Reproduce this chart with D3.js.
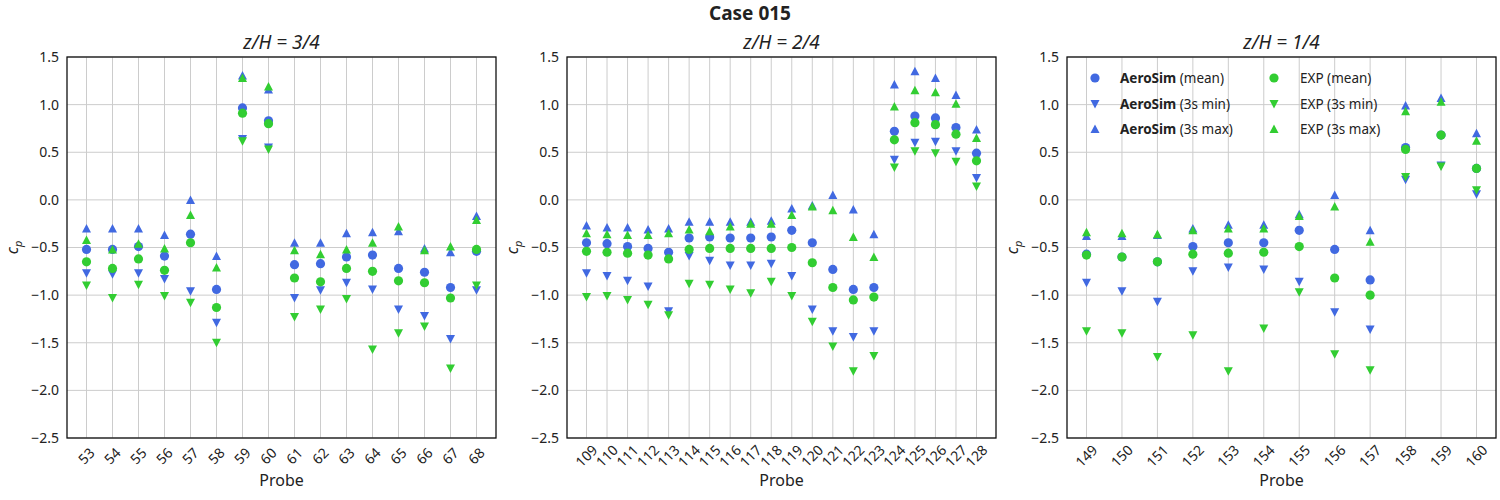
<!DOCTYPE html>
<html><head><meta charset="utf-8">
<script src="https://cdn.jsdelivr.net/npm/d3@7"></script>
<style>body{margin:0;background:#fff}svg{font-family:"Noto Sans","Open Sans",sans-serif}</style>
</head><body>
<svg id="c" width="1500" height="500"></svg>
<script>
// ---- data ----
const probes1 = ["53","54","55","56","57","58","59","60","61","62","63","64","65","66","67","68"];
const aeroMean1 = [-0.52,-0.52,-0.49,-0.59,-0.36,-0.94,0.965,0.83,-0.68,-0.67,-0.60,-0.58,-0.72,-0.76,-0.92,-0.54];
const aeroMin1  = [-0.77,-0.78,-0.77,-0.83,-0.96,-1.29,0.64,0.55,-1.03,-0.95,-0.87,-0.94,-1.15,-1.22,-1.46,-0.95];
const aeroMax1  = [-0.30,-0.30,-0.30,-0.37,0.00,-0.59,1.305,1.16,-0.45,-0.45,-0.35,-0.34,-0.33,-0.51,-0.55,-0.17];
const expMean1  = [-0.65,-0.72,-0.62,-0.74,-0.45,-1.13,0.91,0.80,-0.82,-0.86,-0.72,-0.75,-0.85,-0.87,-1.03,-0.52];
const expMin1   = [-0.90,-1.03,-0.89,-1.01,-1.08,-1.50,0.615,0.53,-1.23,-1.15,-1.04,-1.57,-1.40,-1.33,-1.77,-0.90];
const expMax1   = [-0.42,-0.52,-0.46,-0.51,-0.16,-0.71,1.28,1.19,-0.53,-0.57,-0.52,-0.45,-0.28,-0.53,-0.49,-0.21];

const probes2 = ["109","110","111","112","113","114","115","116","117","118","119","120","121","122","123","124","125","126","127","128"];
const aeroMean2 = [-0.45,-0.46,-0.49,-0.51,-0.55,-0.40,-0.39,-0.40,-0.40,-0.39,-0.32,-0.45,-0.73,-0.94,-0.92,0.72,0.88,0.86,0.76,0.49];
const aeroMin2  = [-0.77,-0.80,-0.85,-0.91,-1.17,-0.59,-0.64,-0.69,-0.69,-0.67,-0.80,-1.15,-1.38,-1.44,-1.38,0.42,0.60,0.61,0.51,0.23];
const aeroMax2  = [-0.27,-0.29,-0.29,-0.31,-0.30,-0.23,-0.23,-0.23,-0.23,-0.22,-0.09,-0.06,0.05,-0.10,-0.36,1.21,1.35,1.28,1.10,0.74];
const expMean2  = [-0.54,-0.55,-0.56,-0.58,-0.62,-0.52,-0.51,-0.51,-0.51,-0.51,-0.50,-0.66,-0.92,-1.05,-1.02,0.63,0.81,0.79,0.69,0.41];
const expMin2   = [-1.02,-1.01,-1.05,-1.10,-1.21,-0.88,-0.89,-0.94,-0.98,-0.86,-1.01,-1.28,-1.54,-1.80,-1.64,0.34,0.51,0.49,0.40,0.14];
const expMax2   = [-0.35,-0.36,-0.37,-0.37,-0.35,-0.31,-0.33,-0.28,-0.25,-0.25,-0.16,-0.07,-0.11,-0.39,-0.60,0.98,1.15,1.13,1.01,0.65];

const probes3 = ["149","150","151","152","153","154","155","156","157","158","159","160"];
const aeroMean3 = [-0.57,-0.60,-0.65,-0.49,-0.45,-0.45,-0.32,-0.52,-0.84,0.55,0.68,0.33];
const aeroMin3  = [-0.87,-0.96,-1.07,-0.75,-0.71,-0.73,-0.86,-1.18,-1.36,0.21,0.36,0.06];
const aeroMax3  = [-0.38,-0.38,-0.37,-0.30,-0.26,-0.26,-0.15,0.05,-0.32,0.99,1.07,0.70];
const expMean3  = [-0.58,-0.60,-0.65,-0.57,-0.56,-0.55,-0.49,-0.82,-1.00,0.53,0.68,0.33];
const expMin3   = [-1.38,-1.40,-1.65,-1.42,-1.80,-1.35,-0.97,-1.62,-1.79,0.24,0.35,0.10];
const expMax3   = [-0.34,-0.35,-0.36,-0.32,-0.30,-0.30,-0.17,-0.07,-0.44,0.93,1.03,0.62];

const subtitles = ["3/4","2/4","1/4"];
const yTicks = [1.5,1.0,0.5,0.0,-0.5,-1.0,-1.5,-2.0,-2.5];
const legendLabels = ["(mean)","(3s min)","(3s max)"];

// ---- drawing ----
const BLUE = "#4169e1", GREEN = "#32cd32";
const svg = d3.select("#c");
const yTop = 57, yBottom = 438;
const lefts = [67, 567, 1067], pw = 429;
const y = d3.scaleLinear().domain([-2.5, 1.5]).range([yBottom, yTop]);

svg.append("text").attr("x", 750).attr("y", 20).attr("text-anchor", "middle")
  .attr("font-size", 19).attr("font-weight", "bold").attr("fill", "#222").text("Case 015");

const panels = [
  {probes: probes1, series: [aeroMean1, aeroMin1, aeroMax1, expMean1, expMin1, expMax1]},
  {probes: probes2, series: [aeroMean2, aeroMin2, aeroMax2, expMean2, expMin2, expMax2]},
  {probes: probes3, series: [aeroMean3, aeroMin3, aeroMax3, expMean3, expMin3, expMax3]}
];
const shapes = ["circle","down","up","circle","down","up"];
const colors = [BLUE, BLUE, BLUE, GREEN, GREEN, GREEN];

function marker(sel, shape, color) {
  if (shape === "circle") return sel.append("circle").attr("r", 4.6).attr("fill", color);
  const d = shape === "up" ? "M0,-4.5L-4.5,4L4.5,4Z" : "M0,4.5L-4.5,-4L4.5,-4Z";
  return sel.append("path").attr("d", d).attr("fill", color);
}

panels.forEach((p, pi) => {
  const L = lefts[pi], R = L + pw;
  const n = p.probes.length;
  const x = d3.scaleLinear().domain([-0.05 * (n - 1), (n - 1) * 1.05]).range([L, R]);
  const g = svg.append("g");

  g.selectAll(".gy").data(yTicks).join("line")
    .attr("x1", L).attr("x2", R).attr("y1", d => y(d)).attr("y2", d => y(d))
    .attr("stroke", "#cccccc").attr("stroke-width", 1);
  g.selectAll(".gx").data(p.probes).join("line")
    .attr("x1", (d, i) => x(i)).attr("x2", (d, i) => x(i)).attr("y1", yTop).attr("y2", yBottom)
    .attr("stroke", "#cccccc").attr("stroke-width", 1);

  g.selectAll(".yt").data(yTicks).join("text")
    .attr("x", L - 8).attr("y", d => y(d)).attr("dy", "0.35em").attr("text-anchor", "end")
    .attr("font-size", 14).attr("fill", "#222")
    .text(d => d3.format(".1f")(d).replace("-", "\u2212"));

  g.selectAll(".xt").data(p.probes).join("text")
    .attr("transform", (d, i) => `translate(${x(i)},${yBottom + 18}) rotate(-45)`)
    .attr("text-anchor", "middle").attr("dy", "0.35em")
    .attr("font-size", 14).attr("fill", "#222").text(d => d);

  g.append("text").attr("x", (L + R) / 2).attr("y", 486).attr("text-anchor", "middle")
    .attr("font-size", 16).attr("fill", "#222").text("Probe");
  const yl = g.append("text").attr("transform", `translate(${L - 49},${(yTop + yBottom) / 2}) rotate(-90)`)
    .attr("text-anchor", "middle").attr("font-size", 16).attr("fill", "#222");
  yl.append("tspan").attr("font-style", "italic").text("c");
  yl.append("tspan").attr("font-style", "italic").attr("font-size", 11).attr("dy", 4).text("p");

  g.append("text").attr("x", (L + R) / 2).attr("y", 49).attr("text-anchor", "middle")
    .attr("font-size", 19).attr("font-style", "italic").attr("fill", "#222")
    .text("z/H = " + subtitles[pi]);

  p.series.forEach((vals, si) => {
    vals.forEach((v, i) => {
      const m = g.append("g").attr("transform", `translate(${x(i)},${y(v)})`);
      marker(m, shapes[si], colors[si]);
    });
  });

  g.append("rect").attr("x", L).attr("y", yTop).attr("width", pw).attr("height", yBottom - yTop)
    .attr("fill", "none").attr("stroke", "#111").attr("stroke-width", 1.3);
});

const lg = svg.append("g");
const rowsY = [78, 104, 129];
legendLabels.forEach((lab, i) => {
  const m1 = lg.append("g").attr("transform", `translate(1095,${rowsY[i]})`);
  marker(m1, shapes[i], BLUE);
  const t1 = lg.append("text").attr("x", 1120).attr("y", rowsY[i]).attr("dy", "0.35em")
    .attr("font-size", 13.5).attr("fill", "#222");
  t1.append("tspan").attr("font-weight", "bold").text("AeroSim");
  t1.append("tspan").text(" " + lab);
  const m2 = lg.append("g").attr("transform", `translate(1274,${rowsY[i]})`);
  marker(m2, shapes[i + 3], GREEN);
  lg.append("text").attr("x", 1300).attr("y", rowsY[i]).attr("dy", "0.35em")
    .attr("font-size", 13.5).attr("fill", "#222").text("EXP " + lab);
});
</script>
</body></html>
